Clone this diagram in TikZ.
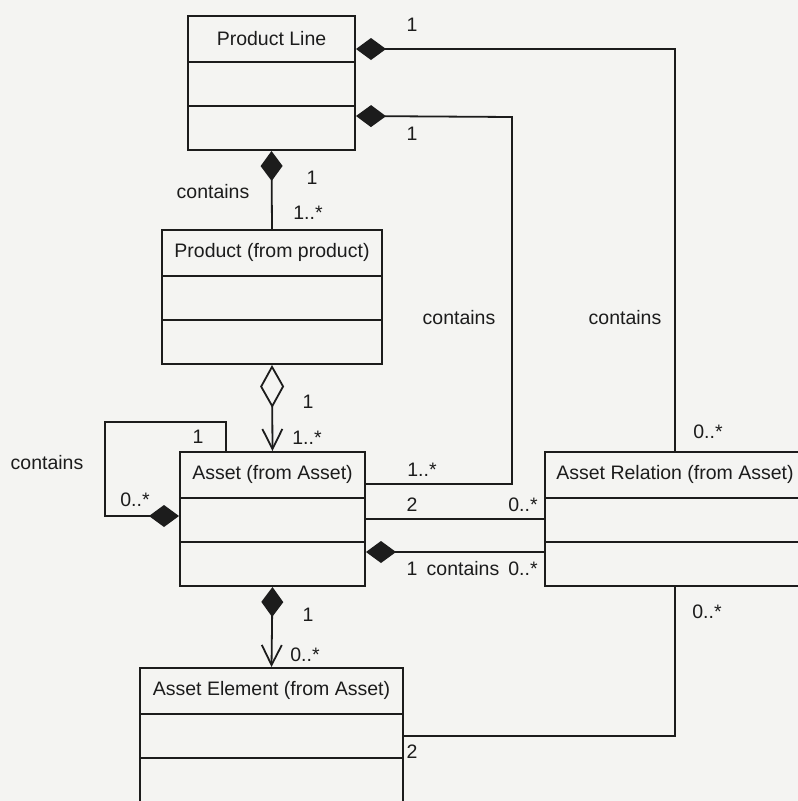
\documentclass[tikz,border=0pt]{standalone}
\usepackage{fontspec}
\setmainfont{Liberation Sans}
\usetikzlibrary{arrows.meta, positioning, calc}
\definecolor{paper}{RGB}{244,244,242}
\definecolor{ink}{RGB}{28,28,28}

\begin{document}
\begin{tikzpicture}[
    x=1pt, y=-1pt,
    font=\fontsize{19.5}{22}\selectfont,
    classbox/.style={
        draw=ink, line width=2pt, minimum height=134pt, inner sep=0pt,
        path picture={
            \draw[ink, line width=2pt]
                ([yshift=-46pt]path picture bounding box.north west) -- ([yshift=-46pt]path picture bounding box.north east)
                ([yshift=-90pt]path picture bounding box.north west) -- ([yshift=-90pt]path picture bounding box.north east);
        }
    },
    header/.style={anchor=north, minimum height=46pt, inner sep=0pt, text=ink},
    mult/.style={inner sep=0pt, text=ink},
    link/.style={draw=ink, line width=1.8pt},
    comp/.style={link, {Diamond[length=30pt, width=22pt]}-},
    compto/.style={link, {Diamond[length=30pt, width=22pt]}-{Straight Barb[length=20pt, width=20pt]}},
    aggto/.style={link, {Diamond[open, fill=paper, length=43pt, width=24pt]}-{Straight Barb[length=20pt, width=20pt]}}
]

    % --- page ---
    \clip (0,0) rectangle (798,801);
    \fill[paper] (0,0) rectangle (798,801);

    % --- classes ---
    \node [classbox, minimum width=167pt, label={[header]north:Product Line}] (pl) at (271.5,83) {};
    \node [classbox, minimum width=220pt, label={[header]north:Product (from product)}] (prod) at (272,297) {};
    \node [classbox, minimum width=185pt, label={[header]north:Asset (from Asset)}] (asset) at (272.5,519) {};
    \node [classbox, minimum width=260pt, label={[header]north:Asset Relation (from Asset)}] (rel) at (675,519) {};
    \node [classbox, minimum width=263pt, label={[header]north:Asset Element (from Asset)}] (elem) at (271.5,735) {};

    % --- corners ---
    \coordinate (bend) at (512,117);
    \coordinate (loop) at (105,422);

    % --- connectors ---
    \path [comp] ([yshift=-34pt]pl.north east) -| (rel.north);
    \path [comp] ([yshift=-101pt]pl.north east) -- (bend) |- ([yshift=-33pt]asset.north east);
    \path [comp] (pl.south) -- (prod.north);
    \path [aggto] (prod.south) -- (asset.north);
    \path [comp] ([yshift=-65pt]asset.north west) -| (loop) -| ([xshift=47pt]asset.north west);
    \path [link] (asset.east) -- (asset.east -| rel.west);
    \path [comp] ([yshift=-101pt]asset.north east) -- ([yshift=-101pt]asset.north east -| rel.west);
    \path [compto] (asset.south) -- (elem.north);
    \path [link] (rel.south) |- ([yshift=-69pt]elem.north east);

    % --- labels ---
    \node [mult] (m1) at (412,25) {1};
    \node [mult] (m2) at (412,134) {1};
    \node [mult] (m3) at (312,178) {1};
    \node [mult] (c1) at (213,192) {contains};
    \node [mult] (m4) at (308,213) {1..*};
    \node [mult] (c4) at (459,318) {contains};
    \node [mult] (c5) at (625,318) {contains};
    \node [mult] (m5) at (308,402) {1};
    \node [mult] (m6) at (307,438) {1..*};
    \node [mult] (m7) at (198,437) {1};
    \node [mult] (c2) at (47,463) {contains};
    \node [mult] (m8) at (135,500) {0..*};
    \node [mult] (m14) at (708,432) {0..*};
    \node [mult] (m9) at (422,470) {1..*};
    \node [mult] (m10) at (412,505) {2};
    \node [mult] (m11) at (523,505) {0..*};
    \node [mult] (m12) at (412,569) {1};
    \node [mult] (c3) at (463,569) {contains};
    \node [mult] (m13) at (523,569) {0..*};
    \node [mult] (m15) at (707,612) {0..*};
    \node [mult] (m17) at (308,615) {1};
    \node [mult] (m18) at (305,655) {0..*};
    \node [mult] (m16) at (412,752) {2};

\end{tikzpicture}
\end{document}
